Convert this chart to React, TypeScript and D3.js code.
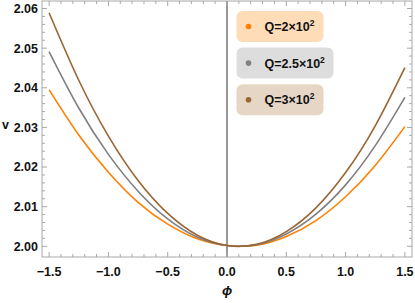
import { useMemo } from 'react';
import * as d3 from 'd3';

// readings, phi every 0.25 from -1.5 to 1.5
const phi = [-1.5, -1.25, -1.0, -0.75, -0.5, -0.25, 0, 0.25, 0.5, 0.75, 1.0, 1.25, 1.5];
const vQ200 = [2.0395, 2.0281, 2.0187, 2.0111, 2.0056, 2.0019, 2.0002, 2.0003, 2.0025, 2.0065, 2.0125, 2.0204, 2.0302];
const vQ250 = [2.0491, 2.0349, 2.0232, 2.0139, 2.0069, 2.0023, 2.0002, 2.0004, 2.0031, 2.0081, 2.0155, 2.0254, 2.0376];
const vQ300 = [2.0589, 2.0419, 2.0278, 2.0166, 2.0083, 2.0028, 2.0002, 2.0005, 2.0037, 2.0097, 2.0186, 2.0304, 2.0451];

const xTicks = [-1.5, -1.0, -0.5, 0.0, 0.5, 1.0, 1.5];
const yTicks = [2.0, 2.01, 2.02, 2.03, 2.04, 2.05, 2.06];

const series = [
  { label: '2', values: vQ200, color: '#ff8000', bg: '#ffdcb8' },
  { label: '2.5', values: vQ250, color: '#808080', bg: '#dddddd' },
  { label: '3', values: vQ300, color: '#996633', bg: '#e6d6c6' },
];

const W = 415;
const H = 303;
const M = { left: 42, right: 3, top: 1, bottom: 46 };

export default function App() {
  const x = useMemo(() => d3.scaleLinear().domain([-1.56, 1.56]).range([M.left, W - M.right]), []);
  const y = useMemo(() => d3.scaleLinear().domain([1.9973, 2.0619]).range([H - M.bottom, M.top]), []);

  const line = d3
    .line<number>()
    .x((_, i) => x(phi[i]))
    .y((d) => y(d))
    .curve(d3.curveNatural);

  const xMinor = d3.range(-15, 16).map((i) => i / 10).filter((v) => Math.abs((v * 2) % 1) > 1e-6);
  const yMinor = d3.range(0, 31).map((i) => 2 + i * 0.002).filter((v) => Math.round(v * 1000) % 10 !== 0);

  const x0 = M.left, x1 = W - M.right, y0 = H - M.bottom, y1 = M.top;
  const frame = '#a8a8a8';
  const font = '"Liberation Sans", Arial, sans-serif';

  return (
    <svg width={W} height={H} style={{ position: 'absolute', left: 0, top: 0 }} fontFamily={font}>
      <rect x={0} y={0} width={W} height={H} fill="#fff" />

      {/* axis at phi = 0 */}
      <line x1={x(0)} x2={x(0)} y1={y1} y2={y0} stroke="#333" strokeWidth={1} />

      {series.map((s) => (
        <path key={s.label} d={line(s.values) || ''} fill="none" stroke={s.color} strokeWidth={1.6} />
      ))}

      {/* frame */}
      <rect x={x0} y={y1} width={x1 - x0} height={y0 - y1} fill="none" stroke={frame} strokeWidth={1} />

      {xTicks.map((t) => (
        <g key={'xt' + t}>
          <line x1={x(t)} x2={x(t)} y1={y0} y2={y0 - 5} stroke={frame} />
          <line x1={x(t)} x2={x(t)} y1={y1} y2={y1 + 5} stroke={frame} />
          <text x={x(t)} y={y0 + 19} textAnchor="middle" fontSize={12.5} fontWeight="bold" fill="#111">
            {t < 0 ? '\u2212' + Math.abs(t).toFixed(1) : t.toFixed(1)}
          </text>
        </g>
      ))}
      {xMinor.map((t) => (
        <g key={'xm' + t}>
          <line x1={x(t)} x2={x(t)} y1={y0} y2={y0 - 3} stroke={frame} />
          <line x1={x(t)} x2={x(t)} y1={y1} y2={y1 + 3} stroke={frame} />
        </g>
      ))}

      {yTicks.map((t) => (
        <g key={'yt' + t}>
          <line x1={x0} x2={x0 + 5} y1={y(t)} y2={y(t)} stroke={frame} />
          <line x1={x1} x2={x1 - 5} y1={y(t)} y2={y(t)} stroke={frame} />
          <text x={x0 - 4} y={y(t)} dy="0.35em" textAnchor="end" fontSize={12.5} fontWeight="bold" fill="#111">
            {t.toFixed(2)}
          </text>
        </g>
      ))}
      {yMinor.map((t) => (
        <g key={'ym' + t}>
          <line x1={x0} x2={x0 + 3} y1={y(t)} y2={y(t)} stroke={frame} />
          <line x1={x1} x2={x1 - 3} y1={y(t)} y2={y(t)} stroke={frame} />
        </g>
      ))}

      <text x={2} y={129} fontSize={12.5} fontWeight="bold" fill="#111">v</text>
      <text x={x(0)} y={295} textAnchor="middle" fontSize={13.5} fontWeight="bold" fontStyle="italic" fill="#111">
        {'\u03d5'}
      </text>

      {/* legend */}
      {series.map((s, i) => {
        const top = 11 + i * 36.6;
        const bw = i === 1 ? 97 : 87;
        return (
          <g key={'lg' + s.label} transform={`translate(236.5,${top})`}>
            <rect width={bw} height={31} rx={6} fill={s.bg} />
            <circle cx={12} cy={15.5} r={2.8} fill={s.color} />
            <text x={28} y={20} fontSize={12.5} fontWeight="bold" fill="#111">
              {`Q=${s.label}\u00d710`}
              <tspan dy={-5} fontSize={8.5}>2</tspan>
            </text>
          </g>
        );
      })}
    </svg>
  );
}
